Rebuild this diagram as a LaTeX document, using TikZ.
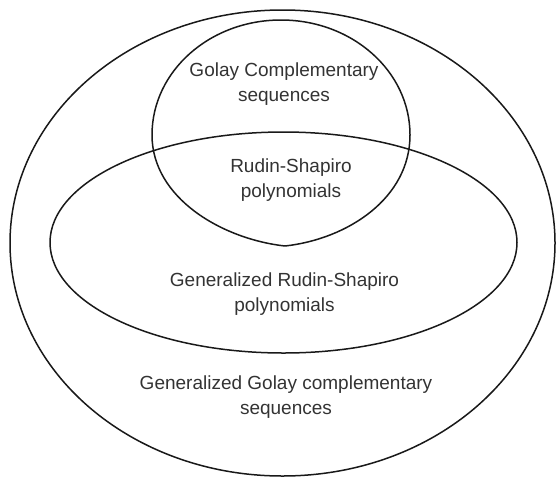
\documentclass[tikz,border=0pt]{standalone}
\usepackage{fontspec}
\setmainfont{Liberation Sans}
\begin{document}
\begin{tikzpicture}[x=1pt,y=-1pt,
  setline/.style={draw=black!90,line width=1.5pt,line join=round},
  lbl/.style={align=center,anchor=north,font=\fontsize{19}{25}\selectfont,text=black!80,inner sep=0pt}]
\useasboundingbox (0,0) rectangle (556,479);
% outer set
\draw[setline] (282.5,243) ellipse [x radius=272.5,y radius=233];
% generalized Rudin-Shapiro set
\draw[setline] (283.5,242.5) ellipse [x radius=233.5,y radius=110.5];
% Golay complementary set (slightly pointed at the bottom)
\draw[setline] (152,135)
  .. controls (152,71) and (210,20) .. (281,20)
  .. controls (352,20) and (410,71) .. (410,135)
  .. controls (410,198) and (348,239) .. (285,246)
  .. controls (222,239) and (152,198) .. (152,135) -- cycle;
\node[lbl] (golay) at (284,63) {Golay Complementary\\sequences};
\node[lbl] (rs) at (291,159) {Rudin-Shapiro\\polynomials};
\node[lbl] (grs) at (284.5,273) {Generalized Rudin-Shapiro\\polynomials};
\node[lbl] (gg) at (286,376) {Generalized Golay complementary\\sequences};
\end{tikzpicture}
\end{document}
